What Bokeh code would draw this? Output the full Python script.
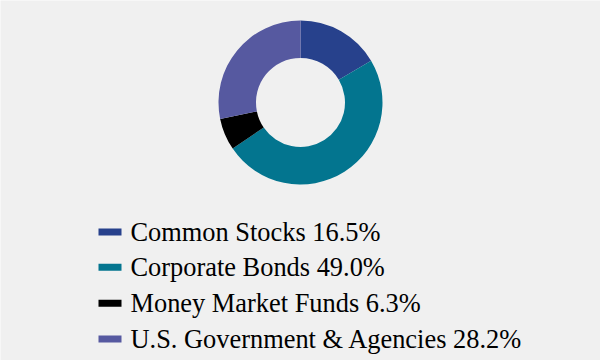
import math
from bokeh.plotting import figure
from bokeh.models import Range1d, ColumnDataSource
from bokeh.core.properties import value
from bokeh.embed import file_html
from bokeh.resources import INLINE

categories = ["Common Stocks", "Corporate Bonds", "Money Market Funds", "U.S. Government & Agencies"]
percents = [16.5, 49.0, 6.3, 28.2]
colors = ["#27418C", "#03758F", "#000000", "#5659A0"]

BG = "#f0f0f0"

# angles from the shares, starting at 12 o'clock and going clockwise
starts, ends = [], []
cum = 0.0
total = sum(percents)
for v in percents:
    starts.append(math.pi / 2 - 2 * math.pi * cum / total)
    cum += v
    ends.append(math.pi / 2 - 2 * math.pi * cum / total)

labels = [f"{c} {v:.1f}%" for c, v in zip(categories, percents)]

cx, cy = 300, 102
row_y = [231.5, 266.8, 302.8, 338.5]

src = ColumnDataSource(dict(start=starts, end=ends, color=colors,
                            label=labels, sy=row_y,
                            sx=[109.5] * 4, tx=[130] * 4))

p = figure(width=600, height=360, output_backend="svg", toolbar_location=None,
           x_range=Range1d(0, 600), y_range=Range1d(360, 0),
           min_border=0, background_fill_color=BG, border_fill_color=BG)
p.axis.visible = False
p.grid.visible = False
p.outline_line_color = None

p.annular_wedge(x=cx, y=cy, inner_radius=44.5, outer_radius=82,
                start_angle="start", end_angle="end", direction="clock",
                fill_color="color", line_color=None, source=src)

p.rect(x="sx", y="sy", width=23, height=7, fill_color="color", line_color=None, source=src)
p.text(x="tx", y="sy", text="label", text_font=value("Liberation Serif"),
       text_font_size="26.4px", text_color="#000000", text_baseline="middle",
       text_align="left", source=src)

open("out.html", "w").write(file_html(p, INLINE))
